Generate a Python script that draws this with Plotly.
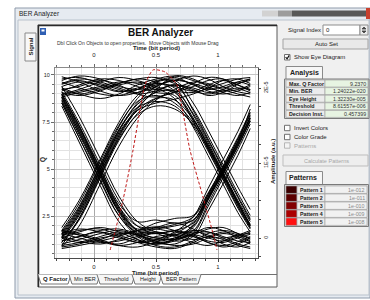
import plotly.graph_objects as go

W, H = 370, 300
FONT = "Liberation Sans"

# ------------------------------------------------------------------ data
# eye-diagram traces: amplitude (x 1e-5 a.u.) sampled at these bit-period instants
TIME_KNOTS = [-0.26, -0.12, 0.05, 0.2, 0.35, 0.5, 0.65, 0.8, 0.92, 1.04, 1.16, 1.26]

EYE_HIGH = [
    [2.05, 2.10, 2.02, 1.95, 2.00, 2.08, 2.12, 2.05, 1.98, 2.02, 2.08, 2.04],
    [1.92, 1.98, 2.08, 2.14, 2.10, 2.02, 1.96, 1.94, 2.00, 2.10, 2.12, 2.06],
    [2.15, 2.08, 1.96, 1.90, 1.94, 2.04, 2.10, 2.16, 2.12, 2.02, 1.95, 1.92],
    [1.98, 2.02, 2.10, 2.04, 1.92, 1.88, 1.95, 2.06, 2.14, 2.12, 2.00, 1.94],
    [2.10, 2.16, 2.12, 2.02, 1.98, 1.98, 2.04, 1.98, 1.90, 1.94, 2.05, 2.12],
    [1.88, 1.94, 2.00, 2.06, 2.12, 2.14, 2.06, 1.96, 1.92, 1.96, 2.00, 1.98],
    [2.00, 1.92, 1.86, 1.92, 2.04, 2.12, 2.16, 2.10, 2.04, 1.98, 1.92, 1.88],
]
EYE_LOW = [
    [0.02, -0.04, -0.08, -0.02, 0.05, 0.08, 0.02, -0.06, -0.10, -0.04, 0.04, 0.06],
    [-0.10, -0.06, 0.02, 0.08, 0.04, -0.04, -0.10, -0.08, 0.00, 0.06, 0.02, -0.05],
    [0.10, 0.06, -0.02, -0.10, -0.12, -0.05, 0.04, 0.10, 0.08, 0.00, -0.08, -0.12],
    [-0.04, 0.02, 0.10, 0.12, 0.06, 0.00, -0.02, 0.04, 0.12, 0.14, 0.06, 0.00],
    [0.06, 0.12, 0.08, 0.00, -0.06, -0.12, -0.14, -0.06, 0.02, -0.02, -0.10, -0.14],
    [-0.14, -0.10, -0.04, 0.02, 0.10, 0.15, 0.10, 0.02, -0.06, -0.12, -0.08, 0.00],
    [0.00, 0.08, 0.14, 0.08, -0.02, -0.08, -0.04, 0.06, 0.14, 0.10, 0.00, -0.08],
]
EYE_FALL_LEFT = [
    [1.90, 1.48, 0.92, 0.42, 0.10, 0.00, 0.04, 0.02, -0.04, -0.06, 0.00, 0.05],
    [1.82, 1.38, 0.82, 0.34, 0.04, -0.06, -0.02, 0.06, 0.08, 0.02, -0.04, -0.06],
    [1.95, 1.54, 0.98, 0.50, 0.16, 0.06, 0.10, 0.04, -0.06, -0.10, -0.05, 0.02],
    [1.80, 1.34, 0.78, 0.30, 0.02, -0.10, -0.12, -0.04, 0.06, 0.10, 0.06, -0.02],
    [1.88, 1.44, 0.88, 0.40, 0.10, 0.14, 0.20, 0.12, 0.02, 0.00, 0.04, 0.10],
    [1.92, 1.50, 0.86, 0.36, 0.06, -0.04, 0.00, 0.08, 0.04, -0.08, -0.12, -0.06],
    [1.76, 1.28, 0.70, 0.22, -0.02, -0.08, -0.02, 0.04, 0.00, -0.04, 0.02, 0.08],
    [2.02, 1.62, 1.06, 0.56, 0.22, 0.08, 0.04, -0.02, 0.02, 0.08, 0.04, -0.04],
]
EYE_RISE_LEFT = [
    [-0.02, 0.30, 0.86, 1.36, 1.74, 1.95, 2.04, 2.00, 1.94, 1.98, 2.06, 2.10],
    [0.04, 0.38, 0.94, 1.44, 1.80, 2.02, 2.10, 2.06, 2.00, 1.96, 1.98, 2.04],
    [-0.06, 0.24, 0.80, 1.30, 1.66, 1.86, 1.94, 2.02, 2.10, 2.12, 2.04, 1.96],
    [0.08, 0.42, 0.98, 1.48, 1.86, 2.08, 2.14, 2.04, 1.96, 1.92, 1.96, 2.02],
    [0.00, 0.34, 0.90, 1.40, 1.70, 1.80, 1.85, 1.92, 2.00, 2.06, 2.12, 2.14],
    [-0.10, 0.26, 0.84, 1.34, 1.72, 1.98, 2.16, 2.12, 2.02, 1.94, 1.90, 1.94],
    [0.14, 0.50, 1.05, 1.54, 1.90, 2.06, 2.02, 1.96, 2.04, 2.10, 2.04, 1.98],
    [-0.12, 0.16, 0.72, 1.22, 1.60, 1.84, 1.98, 2.08, 2.06, 2.00, 2.08, 2.12],
]
EYE_FALL_RIGHT = [
    [2.02, 2.08, 2.04, 1.96, 1.98, 2.06, 2.00, 1.64, 1.27, 0.88, 0.50, 0.22],
    [1.94, 1.90, 1.96, 2.06, 2.12, 2.08, 1.96, 1.56, 1.18, 0.80, 0.42, 0.14],
    [2.12, 2.14, 2.06, 1.98, 1.92, 1.96, 2.04, 1.72, 1.36, 0.98, 0.60, 0.30],
    [1.96, 2.04, 2.12, 2.10, 2.02, 1.94, 1.90, 1.58, 1.22, 0.84, 0.46, 0.18],
    [2.08, 2.00, 1.92, 1.90, 1.98, 2.10, 2.08, 1.70, 1.32, 0.94, 0.56, 0.26],
    [1.90, 1.96, 2.02, 2.08, 2.06, 1.98, 1.94, 1.60, 1.24, 0.86, 0.48, 0.16],
    [2.06, 2.12, 2.08, 2.00, 1.94, 2.02, 2.10, 1.80, 1.44, 1.06, 0.68, 0.38],
    [1.98, 1.92, 1.98, 2.04, 2.08, 2.00, 1.86, 1.48, 1.10, 0.72, 0.34, 0.08],
]
EYE_RISE_RIGHT = [
    [0.00, -0.06, -0.02, 0.06, 0.04, -0.02, 0.00, 0.14, 0.50, 0.88, 1.26, 1.60],
    [0.08, 0.04, -0.04, -0.10, -0.06, 0.02, 0.06, 0.22, 0.58, 0.96, 1.34, 1.68],
    [-0.08, -0.02, 0.06, 0.10, 0.04, -0.06, -0.08, 0.06, 0.42, 0.80, 1.18, 1.52],
    [0.04, 0.10, 0.12, 0.04, -0.04, -0.08, -0.02, 0.18, 0.54, 0.92, 1.30, 1.64],
    [-0.12, -0.08, 0.00, 0.04, 0.10, 0.12, 0.08, 0.10, 0.46, 0.84, 1.22, 1.56],
    [0.06, 0.00, -0.06, -0.04, 0.02, 0.08, 0.04, 0.16, 0.52, 0.90, 1.28, 1.72],
    [-0.04, 0.02, 0.08, 0.02, -0.06, -0.02, 0.08, 0.28, 0.66, 1.04, 1.42, 1.78],
    [0.10, 0.04, -0.04, -0.08, 0.00, 0.06, -0.04, 0.02, 0.36, 0.72, 1.10, 1.46],
]
EYE_PULSE_ONE = [
    [0.00, 0.32, 0.88, 1.38, 1.70, 1.86, 1.84, 1.58, 1.24, 0.86, 0.48, 0.18],
    [0.06, 0.40, 0.96, 1.44, 1.74, 1.82, 1.76, 1.50, 1.16, 0.78, 0.40, 0.12],
    [-0.06, 0.26, 0.82, 1.32, 1.64, 1.76, 1.72, 1.52, 1.20, 0.84, 0.46, 0.16],
    [0.02, 0.36, 0.92, 1.42, 1.78, 1.94, 1.96, 1.66, 1.30, 0.92, 0.54, 0.24],
    [0.10, 0.46, 1.02, 1.50, 1.82, 1.90, 1.80, 1.54, 1.20, 0.82, 0.44, 0.14],
]
EYE_PULSE_ZERO = [
    [1.88, 1.46, 0.90, 0.42, 0.16, 0.14, 0.18, 0.28, 0.58, 0.92, 1.28, 1.60],
    [1.84, 1.40, 0.84, 0.36, 0.12, 0.20, 0.26, 0.30, 0.60, 0.94, 1.32, 1.66],
    [1.92, 1.50, 0.94, 0.46, 0.22, 0.24, 0.20, 0.24, 0.54, 0.88, 1.24, 1.56],
    [1.86, 1.42, 0.86, 0.38, 0.10, 0.06, 0.10, 0.20, 0.52, 0.86, 1.22, 1.58],
    [1.80, 1.34, 0.76, 0.30, 0.08, 0.12, 0.16, 0.24, 0.56, 0.90, 1.26, 1.62],
]

# Q factor curve versus time
Q_TIME = [0.13, 0.234, 0.315, 0.371, 0.411, 0.476, 0.573, 0.669, 0.718, 0.774, 0.879, 0.952, 0.992]
Q_VALUES = [0.69, 3.35, 6.01, 8.14, 9.47, 10.27, 10.16, 9.47, 7.98, 6.01, 3.51, 1.76, 0.69]

AMP_TICKVALS = [0, 1, 2]
AMP_TICKTEXT = ["0", "1E-5", "2E-5"]

ANALYSIS_LABELS = ["Max. Q Factor", "Min. BER", "Eye Height", "Threshold", "Decision Inst."]
ANALYSIS_VALUES = ["9.2370", "1.24022e-020", "1.32230e-005", "8.61557e-006", "0.457399"]
PATTERN_LABELS = ["Pattern 1", "Pattern 2", "Pattern 3", "Pattern 4", "Pattern 5"]
PATTERN_BER = ["1e-012", "1e-011", "1e-010", "1e-009", "1e-008"]
TAB_NAMES = ["Q Factor", "Min BER", "Threshold", "Height", "BER Pattern"]
CHECKBOXES = ["Invert Colors", "Color Grade", "Patterns"]

# ------------------------------------------------------------------ styles
PATTERN_COLORS = ["#3c0000", "#5c0000", "#820000", "#ab0000", "#ff1010"]
TAB_SPANS = [(38, 71), (69, 100), (97, 135), (132, 162), (160, 201)]
TAB_CENTERS = [55, 85, 116, 148, 181]
CHECK_Y = [128, 137, 145.5]

shapes, annotations = [], []


def X(px):
    return px / W


def Y(py):
    return 1 - py / H


def rect(x0, y0, x1, y1, fill, line=None, lw=1):
    shapes.append(dict(type="rect", xref="paper", yref="paper",
                       x0=X(x0), x1=X(x1), y0=Y(y1), y1=Y(y0),
                       fillcolor=fill, layer="below",
                       line=dict(color=line if line else "rgba(0,0,0,0)", width=lw if line else 0)))


def path(points, color, width=1, close=False, fill=None):
    d = "M" + " L".join(f"{X(px):.5f},{Y(py):.5f}" for px, py in points) + (" Z" if close else "")
    shapes.append(dict(type="path", xref="paper", yref="paper", path=d, layer="below",
                       line=dict(color=color, width=width),
                       fillcolor=fill if fill else "rgba(0,0,0,0)"))


def text(px, py, s, size=6, bold=False, color="#222", anchor="center", angle=0, family=FONT):
    annotations.append(dict(x=X(px), y=Y(py), xref="paper", yref="paper",
                            text=f"<b>{s}</b>" if bold else s, showarrow=False,
                            xanchor=anchor, yanchor="middle", textangle=angle,
                            borderpad=0, font=dict(size=size, color=color, family=family)))


# ------------------------------------------------------------------ window chrome
rect(15, 8, 370, 298, "#e6ebf1", "#8f9bab")
rect(18, 20, 369, 295, "#f0f0f0", "#b9c2cc")
text(18, 13.5, "BER Analyzer", size=6.5, anchor="left", color="#1e1e1e")
rect(262, 10.5, 278, 16.5, "#d2d2d2")
rect(278, 10.5, 292, 16.5, "#9c9c9c")
rect(292, 10.5, 366, 16.5, "#585858")
rect(366, 8, 370, 19, "#c8402e")

# left vertical tab
rect(25, 33, 36, 61, "#f8f8f8", "#8a8a8a")
text(30.5, 47, "Signal", size=6, bold=True, angle=-90)

# chart panel
rect(38, 25, 277, 287, "#ffffff", "#5a5a5a")
path([(38.5, 287), (38.5, 25.5), (277, 25.5)], "#2a2a2a", 1.5)
rect(40, 28, 46, 35, "#2f5fb3")
rect(41.5, 29.5, 44.5, 31.5, "#ffffff")

text(160, 33, "BER Analyzer", size=10, bold=True, color="#111")
text(138, 43, "Dbl Click On Objects to open properties.  Move Objects with Mouse Drag", size=5, color="#333")
text(156, 48.5, "Time (bit period)", size=6, bold=True)
text(155, 273, "Time (bit period)", size=6, bold=True)
text(43, 160, "Q", size=6.5, bold=True, angle=-90)
text(273, 162, "Amplitude (a.u.)", size=6, bold=True, angle=-90)

# bottom tabs
path([(38, 274.5), (277, 274.5)], "#707070", 1)
for i, name in enumerate(TAB_NAMES):
    xl, xr = TAB_SPANS[i]
    fill = "#ffffff" if i == 0 else "#f6f6f6"
    path([(xl, 274.5), (xl + 3, 284), (xr - 3, 284), (xr, 274.5)], "#555555", 0.8, fill=fill)
    text(TAB_CENTERS[i], 279, name, size=5.5 if i else 6, bold=(i == 0), color="#222")

# ------------------------------------------------------------------ right panel
text(322, 30, "Signal Index", size=6, anchor="right")
rect(323, 25, 360, 35, "#ffffff", "#8d8d8d")
text(325, 30, "0", size=6, anchor="left")
rect(360, 25, 368, 35, "#ececec", "#8d8d8d")
path([(362, 29), (364, 27), (366, 29)], "#444", 0.8, close=True, fill="#444")
path([(362, 31), (364, 33), (366, 31)], "#444", 0.8, close=True, fill="#444")

rect(283, 39, 368, 49, "#e9e9e9", "#a3a3a3")
text(326, 44, "Auto Set", size=6)

rect(284.5, 54.5, 290, 60, "#ffffff", "#707070")
path([(285.6, 57.2), (287.1, 58.9), (289.2, 55.4)], "#111", 1.1)
text(293, 57.5, "Show Eye Diagram", size=6, anchor="left")

# Analysis tab + table
path([(286, 79), (286, 66.5), (322.5, 66.5), (322.5, 79)], "#8a8a8a", 1, fill="#f7f7f7")
text(304, 73, "Analysis", size=7, bold=True)
rect(284.5, 79, 369, 118.5, "#d8d8d8", "#7a7a7a")
for i, (lab, val) in enumerate(zip(ANALYSIS_LABELS, ANALYSIS_VALUES)):
    y0 = 80 + 7.6 * i
    rect(286, y0, 325, y0 + 7, "#ececec", "#9a9a9a", 0.6)
    rect(325, y0, 368, y0 + 7, "#e7f4e2", "#9a9a9a", 0.6)
    text(288, y0 + 3.6, lab, size=5.3, bold=True, anchor="left", color="#222")
    text(366.5, y0 + 3.6, val, size=5.3, anchor="right", color="#333")

for i, lab in enumerate(CHECKBOXES):
    greyed = (i == 2)
    yc = CHECK_Y[i]
    rect(284.5, yc - 2.7, 290, yc + 2.7, "#ffffff" if not greyed else "#f4f4f4",
         "#707070" if not greyed else "#b5b5b5")
    text(293, yc, lab, size=6, anchor="left", color="#222" if not greyed else "#a8a8a8")

rect(283, 155, 368, 166, "#eeeeee", "#bdbdbd")
text(326, 160.5, "Calculate Patterns", size=5.5, color="#a6a6a6")

# Patterns tab + table
path([(286, 184), (286, 171.5), (322.5, 171.5), (322.5, 184)], "#8a8a8a", 1, fill="#f7f7f7")
text(303, 177.5, "Patterns", size=7, bold=True)
rect(284.5, 184.5, 368.5, 226.5, "#d8d8d8", "#7a7a7a")
for i, (lab, val) in enumerate(zip(PATTERN_LABELS, PATTERN_BER)):
    y0 = 186 + 8.0 * i
    rect(286, y0, 297, y0 + 7.4, PATTERN_COLORS[i], "#9a9a9a", 0.6)
    rect(297, y0, 325, y0 + 7.4, "#ececec", "#9a9a9a", 0.6)
    rect(325, y0, 367, y0 + 7.4, "#f1f1f1", "#9a9a9a", 0.6)
    text(299, y0 + 3.8, lab, size=5.3, bold=True, anchor="left", color="#222")
    text(365.5, y0 + 3.8, val, size=5.3, anchor="right", color="#8a8a8a")

# ------------------------------------------------------------------ plot
fig = go.Figure()

eye_groups = [EYE_HIGH, EYE_LOW, EYE_FALL_LEFT, EYE_RISE_LEFT, EYE_FALL_RIGHT,
              EYE_RISE_RIGHT, EYE_PULSE_ONE, EYE_PULSE_ZERO]
for group in eye_groups:
    for vals in group:
        fig.add_trace(go.Scatter(x=TIME_KNOTS, y=vals, mode="lines", xaxis="x", yaxis="y",
                                 line=dict(color="#000000", width=1.0, shape="spline", smoothing=1.0),
                                 hoverinfo="skip"))

fig.add_trace(go.Scatter(x=Q_TIME, y=Q_VALUES, mode="lines", xaxis="x2", yaxis="y2",
                         line=dict(color="#c01818", width=1, dash="3px,2px", shape="spline", smoothing=0.6),
                         hoverinfo="skip"))

XDOM = [55 / W, 258 / W]
YDOM = [1 - 258 / H, 1 - 68 / H]
XR = [-0.3145, 1.3226]
AXLINE = "#4a4a4a"
tickfont = dict(size=6, color="#222", family=FONT)

fig.update_layout(
    width=W, height=H, autosize=False,
    margin=dict(l=0, r=0, t=0, b=0, pad=0),
    paper_bgcolor="#ffffff", plot_bgcolor="#ffffff",
    showlegend=False, hovermode=False,
    font=dict(family=FONT, size=6, color="#222"),
    shapes=shapes, annotations=annotations,
    xaxis=dict(domain=XDOM, range=XR, anchor="y", side="bottom",
               showline=True, linecolor=AXLINE, linewidth=1, mirror=False,
               tick0=0, dtick=0.5, ticks="outside", ticklen=3, tickcolor=AXLINE,
               tickfont=tickfont, zeroline=False,
               showgrid=True, gridcolor="#a9a9a9", gridwidth=1,
               minor=dict(dtick=0.1, tick0=0, ticks="outside", ticklen=2, tickcolor=AXLINE,
                          showgrid=True, gridcolor="#e2e2e2", gridwidth=1)),
    xaxis2=dict(domain=XDOM, range=XR, overlaying="x", anchor="y2", side="top",
                showline=True, linecolor="#8a8a8a", linewidth=1,
                tick0=0, dtick=0.5, ticks="outside", ticklen=3, tickcolor="#6a6a6a",
                tickfont=tickfont, ticklabelstandoff=5, zeroline=False, showgrid=False,
                minor=dict(dtick=0.1, tick0=0, ticks="outside", ticklen=2, tickcolor="#6a6a6a",
                           showgrid=False)),
    yaxis=dict(domain=YDOM, range=[-0.2667, 2.2667], anchor="x", side="right",
               showline=True, linecolor=AXLINE, linewidth=1,
               tickvals=AMP_TICKVALS, ticktext=AMP_TICKTEXT, tickangle=-90,
               ticks="outside", ticklen=2, tickcolor=AXLINE, tickfont=dict(size=5.5, color="#222", family=FONT),
               zeroline=False, showgrid=False,
               minor=dict(dtick=0.25, ticks="outside", ticklen=2, tickcolor=AXLINE, showgrid=False)),
    yaxis2=dict(domain=YDOM, range=[0.266, 10.372], overlaying="y", anchor="x2", side="left",
                showline=True, linecolor="#8a8a8a", linewidth=1,
                tick0=0, dtick=2.5, ticks="outside", ticklen=3, tickcolor="#6a6a6a",
                tickfont=dict(size=5.5, color="#222", family=FONT), zeroline=False,
                showgrid=True, gridcolor="#c4c4c4", gridwidth=1,
                minor=dict(dtick=0.5, tick0=0, ticks="outside", ticklen=2, tickcolor="#6a6a6a",
                           showgrid=True, gridcolor="#e2e2e2", gridwidth=1)),
)

fig.write_html("out.html", config={"displayModeBar": False, "staticPlot": True},
               post_script="document.body.style.margin='0px';")
